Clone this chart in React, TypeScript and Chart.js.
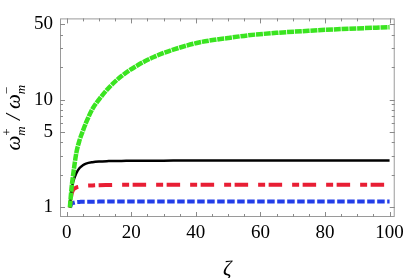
import React, { useEffect, useRef } from 'react';
import { Chart, registerables } from 'chart.js';

Chart.register(...registerables);

// ---- data ----
const zeta = [1, 1.5, 2, 3, 4, 5, 6, 8, 10, 13, 17, 22, 27, 33, 41, 50, 56, 65, 75, 85, 100];
const greenRatio = [1.0, 1.5, 2.0, 3.2, 4.2, 5.1, 6.1, 8.2, 10.0, 12.8, 16.5, 20.8, 24.8, 29.0, 33.8, 37.2, 39.3, 41.5, 43.4, 45.0, 46.8];
const blackRatio = [1.0, 1.45, 1.72, 2.08, 2.32, 2.46, 2.55, 2.63, 2.67, 2.69, 2.70, 2.71, 2.71, 2.72, 2.72, 2.72, 2.72, 2.73, 2.73, 2.73, 2.73];
const redRatio = [1.0, 1.32, 1.45, 1.53, 1.56, 1.58, 1.59, 1.6, 1.61, 1.615, 1.62, 1.62, 1.62, 1.62, 1.62, 1.62, 1.625, 1.625, 1.625, 1.625, 1.625];
const blueRatio = [1.0, 1.08, 1.1, 1.12, 1.125, 1.13, 1.13, 1.13, 1.133, 1.135, 1.135, 1.135, 1.135, 1.135, 1.135, 1.135, 1.135, 1.135, 1.135, 1.135, 1.135];

const xMajorTicks = [0, 20, 40, 60, 80, 100];
const xMinorTicks = [5, 10, 15, 25, 30, 35, 45, 50, 55, 65, 70, 75, 85, 90, 95];
const yMajorTicks = [1, 5, 10, 50];
const yMinorTicks = [2, 3, 4, 6, 7, 8, 9, 20, 30, 40];

const X_MIN = -2.06;
const X_MAX = 101.6;
const Y_MIN = 0.816;
const Y_MAX = 56.5;

const toPoints = (ys: number[]) => zeta.map((x, i) => ({ x, y: ys[i] }));

const framePlugin = {
  id: 'mmaFrame',
  afterDraw(chart: any) {
    const { ctx, chartArea: a, scales } = chart;
    const xs = scales.x;
    const ys = scales.y;
    ctx.save();
    ctx.strokeStyle = '#9a9a9a';
    ctx.lineWidth = 1;
    ctx.strokeRect(a.left + 0.5, a.top + 0.5, a.right - a.left - 1, a.bottom - a.top - 1);
    ctx.strokeStyle = '#8a8a8a';
    const tick = (x1: number, y1: number, x2: number, y2: number) => {
      ctx.beginPath();
      ctx.moveTo(x1, y1);
      ctx.lineTo(x2, y2);
      ctx.stroke();
    };
    const xt = (v: number, len: number) => {
      const p = Math.round(xs.getPixelForValue(v)) + 0.5;
      tick(p, a.bottom, p, a.bottom - len);
      tick(p, a.top, p, a.top + len);
    };
    const yt = (v: number, len: number) => {
      const p = Math.round(ys.getPixelForValue(v)) + 0.5;
      tick(a.left, p, a.left + len, p);
      tick(a.right, p, a.right - len, p);
    };
    xMajorTicks.forEach((v) => xt(v, 5));
    xMinorTicks.forEach((v) => xt(v, 3));
    yMajorTicks.forEach((v) => yt(v, 5));
    yMinorTicks.forEach((v) => yt(v, 3));

    // axis titles
    ctx.fillStyle = '#000';
    ctx.textBaseline = 'alphabetic';
    ctx.textAlign = 'center';
    ctx.font = 'italic 21px "Liberation Serif"';
    ctx.fillText('ζ', (a.left + a.right) / 2, 275);

    // y title: ω_m^+ / ω_m^-
    ctx.save();
    ctx.translate(20, (a.top + a.bottom) / 2);
    ctx.rotate(-Math.PI / 2);
    ctx.textAlign = 'left';
    const big = 'italic 21px "Liberation Serif"';
    const small = 'italic 13px "Liberation Serif"';
    const smallUp = '13px "Liberation Serif"';
    ctx.font = big;
    const wOmega = ctx.measureText('ω').width;
    ctx.font = small;
    const wM = ctx.measureText('m').width;
    ctx.font = big;
    const wSlash = ctx.measureText(' / ').width;
    const total = wOmega + wM + 1 + wSlash + wOmega + wM;
    let cx = -total / 2;
    const drawOmega = (sup: string) => {
      ctx.font = big;
      ctx.fillText('ω', cx, 0);
      cx += wOmega;
      ctx.font = smallUp;
      ctx.fillText(sup, cx, -9);
      ctx.font = small;
      ctx.fillText('m', cx, 5);
      cx += wM + 1;
    };
    drawOmega('+');
    ctx.font = big;
    ctx.fillText(' / ', cx, 0);
    cx += wSlash;
    drawOmega('\u2212');
    ctx.restore();
    ctx.restore();
  },
};

export default function App() {
  const ref = useRef<HTMLCanvasElement | null>(null);
  useEffect(() => {
    if (!ref.current) return;
    const chart = new Chart(ref.current, {
      type: 'line',
      data: {
        datasets: [
          {
            label: 'green',
            data: toPoints(greenRatio),
            borderColor: 'rgb(58,228,32)',
            borderWidth: 4.5,
            borderDash: [7, 0.8],
            pointRadius: 0,
            cubicInterpolationMode: 'monotone',
            fill: false,
          },
          {
            label: 'black',
            data: toPoints(blackRatio),
            borderColor: '#000',
            borderWidth: 2.5,
            pointRadius: 0,
            cubicInterpolationMode: 'monotone',
            fill: false,
          },
          {
            label: 'red',
            data: toPoints(redRatio),
            borderColor: 'rgb(232,30,52)',
            borderWidth: 4,
            borderDash: [7, 3.5, 13.5, 10],
            pointRadius: 0,
            cubicInterpolationMode: 'monotone',
            fill: false,
          },
          {
            label: 'blue',
            data: toPoints(blueRatio),
            borderColor: 'rgb(35,62,232)',
            borderWidth: 4,
            borderDash: [7.5, 2.5],
            pointRadius: 0,
            cubicInterpolationMode: 'monotone',
            fill: false,
          },
        ],
      },
      options: {
        animation: false,
        responsive: false,
        layout: { padding: { top: 9, right: 12, left: 0, bottom: 0 } },
        plugins: { legend: { display: false }, tooltip: { enabled: false } },
        scales: {
          x: {
            type: 'linear',
            min: X_MIN,
            max: X_MAX,
            border: { display: false },
            grid: { display: false, drawTicks: false },
            afterBuildTicks: (s: any) => {
              s.ticks = xMajorTicks.map((v) => ({ value: v }));
            },
            afterFit: (s: any) => {
              s.height = 61;
            },
            ticks: {
              autoSkip: false,
              maxRotation: 0,
              padding: 5,
              color: '#000',
              font: { family: 'Liberation Serif', size: 19 },
              callback: (v: any) => String(v),
            },
          },
          y: {
            type: 'logarithmic',
            min: Y_MIN,
            max: Y_MAX,
            border: { display: false },
            grid: { display: false, drawTicks: false },
            afterBuildTicks: (s: any) => {
              s.ticks = yMajorTicks.map((v) => ({ value: v }));
            },
            afterFit: (s: any) => {
              s.width = 60;
            },
            ticks: {
              autoSkip: false,
              padding: 7,
              color: '#000',
              font: { family: 'Liberation Serif', size: 19 },
              callback: (v: any) => String(v),
            },
          },
        },
      },
      plugins: [framePlugin],
    } as any);
    return () => chart.destroy();
  }, []);
  return (
    <div style={{ position: 'fixed', left: 0, top: 0, width: 409, height: 278, background: '#fff' }}>
      <canvas ref={ref} width={409} height={278} style={{ display: 'block' }} />
    </div>
  );
}
